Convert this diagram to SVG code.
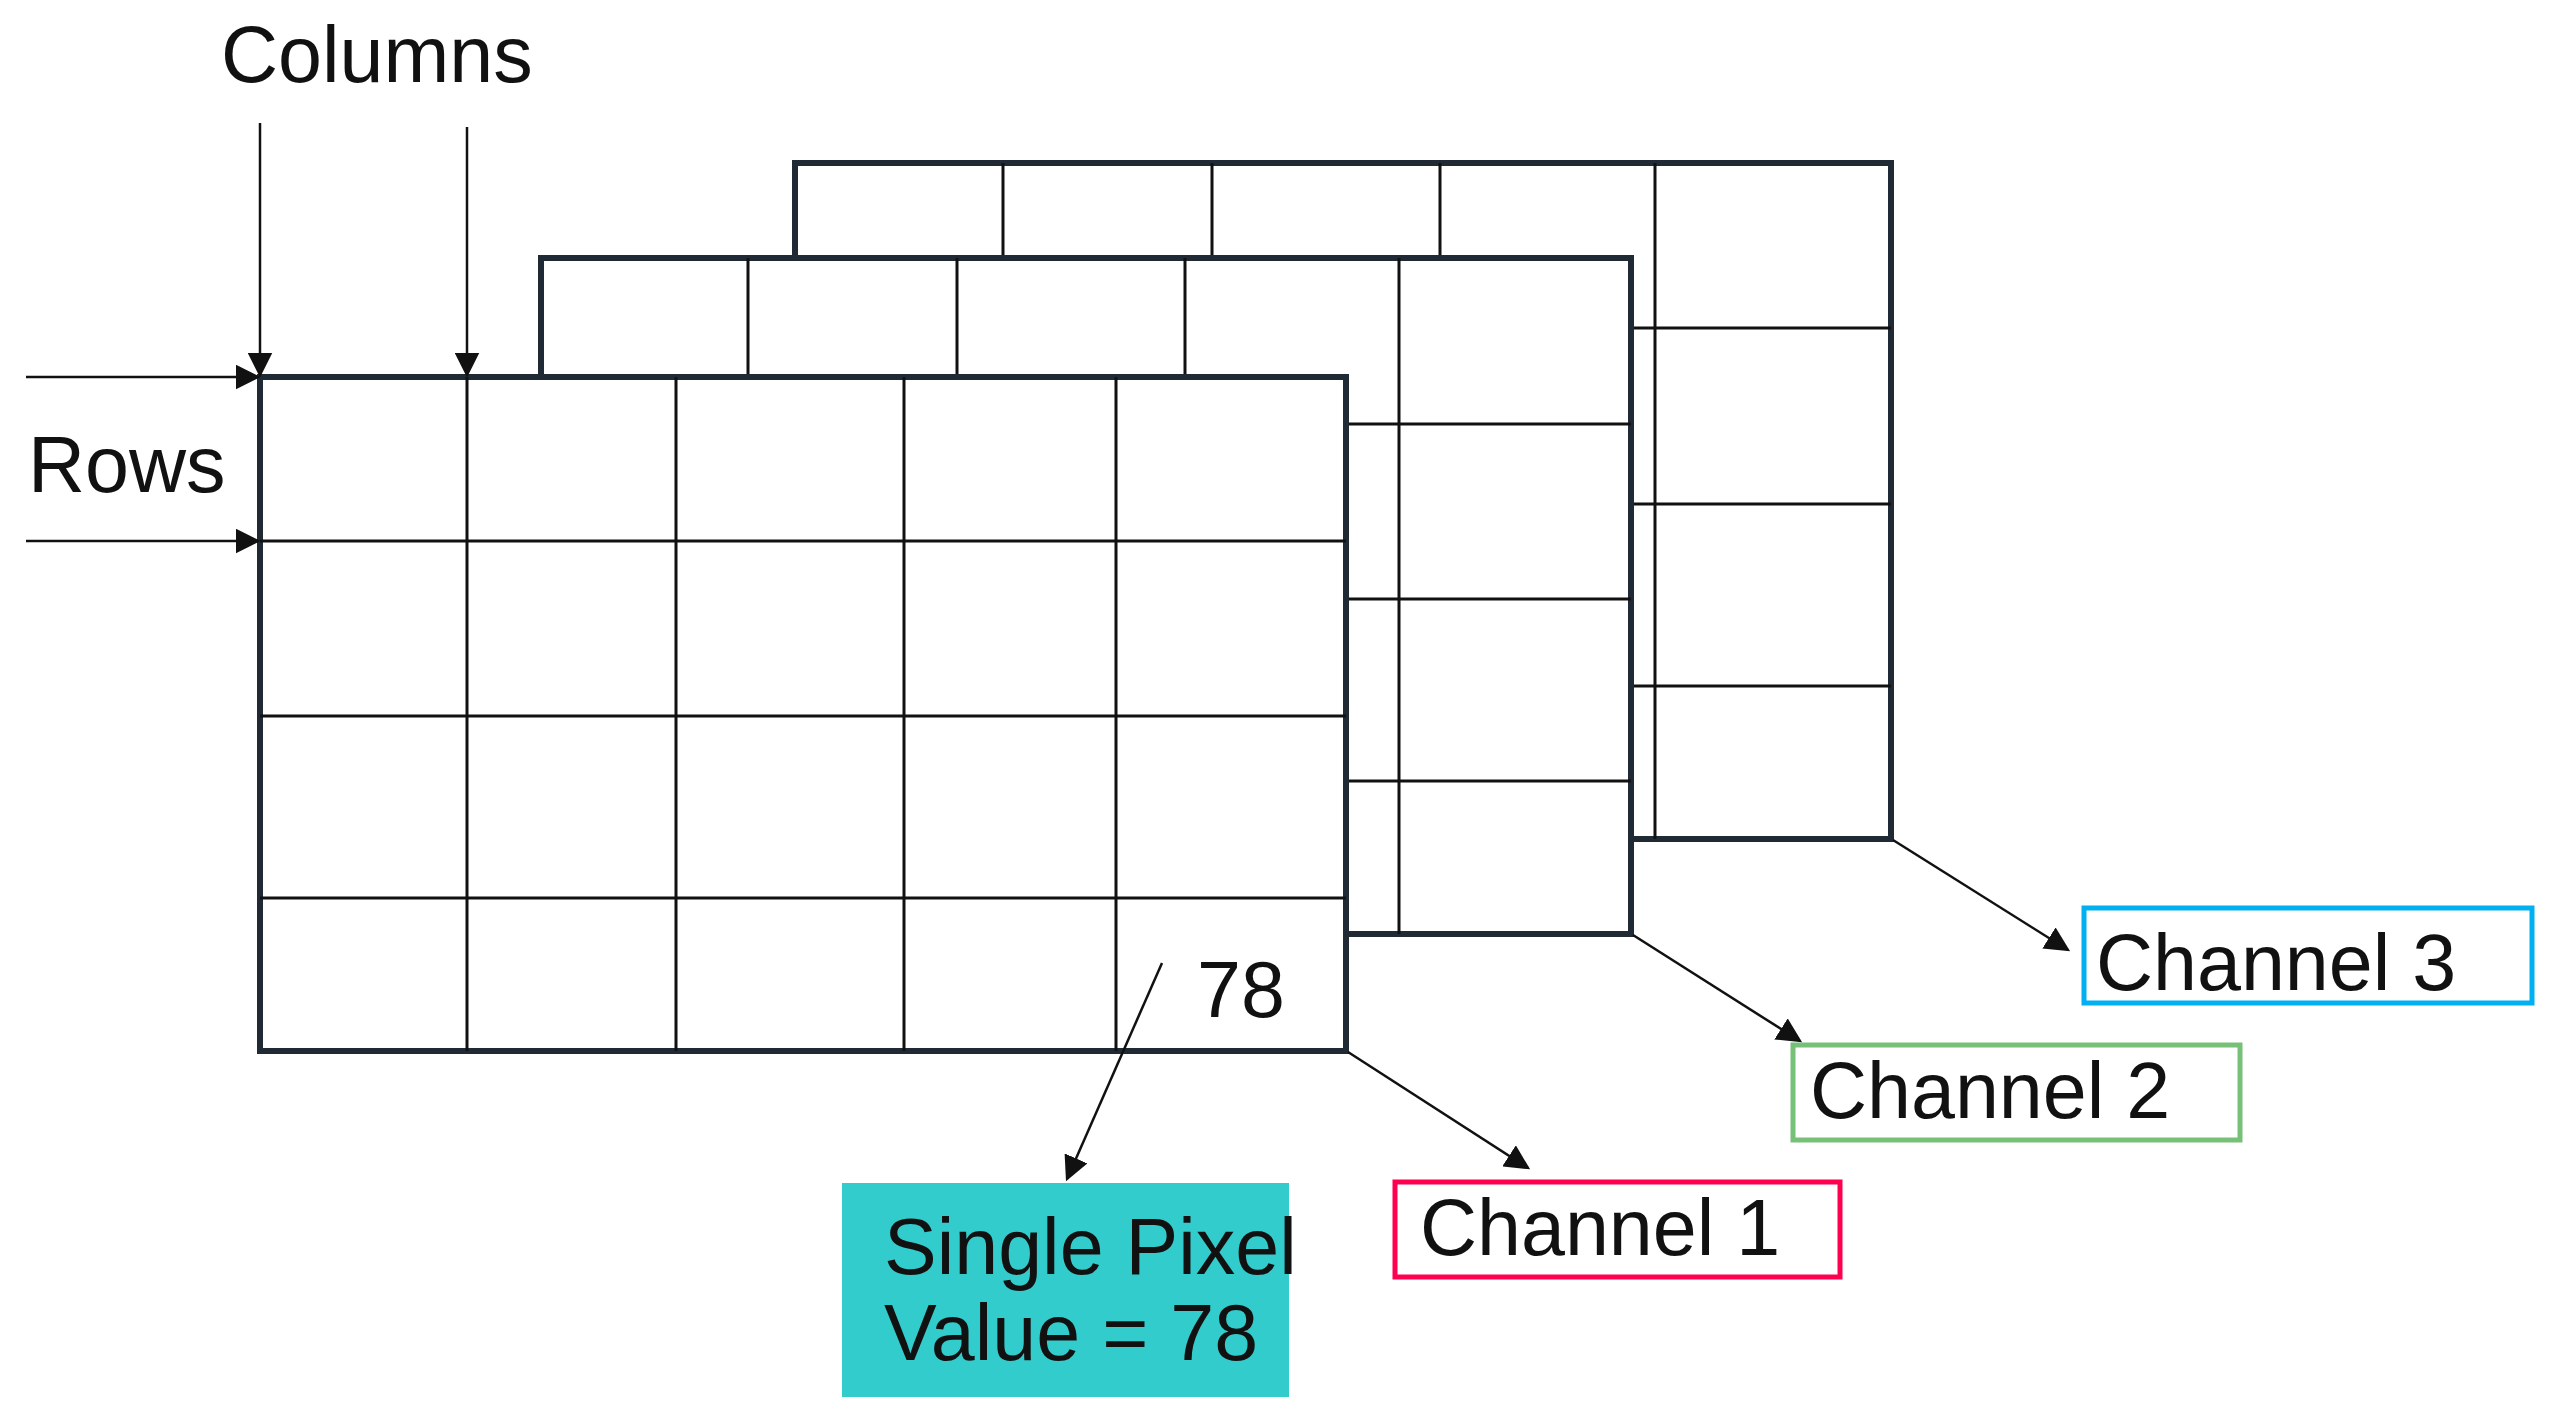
<svg xmlns="http://www.w3.org/2000/svg" width="2549" height="1418" viewBox="0 0 2549 1418">
<style>
.frame{fill:#fff;stroke:#1f2a35;stroke-width:6}
.in{stroke:#111;stroke-width:3;fill:none}
.t{font-family:"Liberation Sans",Arial,sans-serif;font-size:79px;fill:#111}
.c{stroke:#111;stroke-width:2.5;fill:none;marker-end:url(#ah)}
</style>
<defs><marker id="ah" markerWidth="10" markerHeight="10" refX="9" refY="5" orient="auto" markerUnits="strokeWidth"><path d="M0,0L10,5L0,10z" fill="#111"/></marker></defs>
<rect width="2549" height="1418" fill="#fff"/>
<g id="channel3-grid">
<rect class="frame" x="795" y="163" width="1096" height="676"/>
<path class="in" d="M1003,163V839M1212,163V839M1440,163V839M1655,163V839M795,328H1891M795,504H1891M795,686H1891"/>
</g>
<g id="channel2-grid">
<rect class="frame" x="541" y="258" width="1090" height="676"/>
<path class="in" d="M748,258V934M957,258V934M1185,258V934M1399,258V934M541,424H1631M541,599H1631M541,781H1631"/>
</g>
<g id="channel1-grid">
<rect class="frame" x="260" y="377" width="1086" height="674"/>
<path class="in" d="M467,377V1051M676,377V1051M904,377V1051M1116,377V1051M260,541H1346M260,716H1346M260,898H1346"/>
<text class="t" x="1197" y="1017">78</text>
</g>
<g id="columns-label"><text class="t" x="221" y="82">Columns</text></g>
<g id="rows-label"><text class="t" x="28" y="492">Rows</text></g>
<g id="channel1"><rect x="1395" y="1182" width="445" height="95" fill="#fff" stroke="#ff0050" stroke-width="5"/><text class="t" x="1420" y="1255">Channel 1</text></g>
<g id="channel2"><rect x="1793" y="1045" width="447" height="95" fill="#fff" stroke="#77c077" stroke-width="5"/><text class="t" x="1810" y="1118">Channel 2</text></g>
<g id="channel3"><rect x="2084" y="908" width="448" height="95" fill="#fff" stroke="#00b0f0" stroke-width="5"/><text class="t" x="2096" y="990">Channel 3</text></g>
<g id="pixel"><rect x="842" y="1183" width="447" height="214" fill="#33cccc"/><text class="t" x="884" y="1274">Single Pixel</text><text class="t" x="884" y="1360">Value = 78</text></g>
<g id="connectors">
<path class="c" d="M260,123V375"/>
<path class="c" d="M467,127V375"/>
<path class="c" d="M26,377H258"/>
<path class="c" d="M26,541H258"/>
<path class="c" d="M1348,1052L1528,1168"/>
<path class="c" d="M1633,935L1800,1041"/>
<path class="c" d="M1893,840L2068,950"/>
<path class="c" d="M1162,963L1067,1179"/>
</g>
</svg>
